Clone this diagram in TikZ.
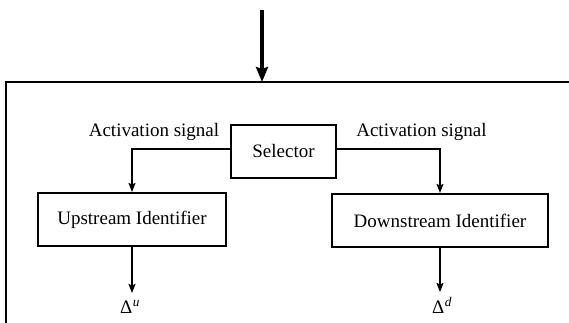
\documentclass[tikz,border=0pt]{standalone}
\usepackage{fontspec}
\setmainfont{Liberation Serif}
\usetikzlibrary{arrows.meta}
\begin{document}
\begin{tikzpicture}[x=1pt,y=-1pt,
  every node/.style={font=\fontsize{19}{22}\selectfont},
  block/.style={draw, line width=2pt, inner sep=0pt, minimum height=53pt},
  link/.style={line width=1.6pt, -{Stealth[length=9pt,width=7pt,inset=1.5pt]}},
  feed/.style={line width=4.5pt, -{Stealth[length=15pt,width=12pt,inset=2pt]}},
  frame/.style={line width=2pt},
  lbl/.style={anchor=base, inner sep=0pt}]
  \useasboundingbox (0,0) rectangle (569,323);

  % surrounding frame, open to the right and below
  \coordinate (fr) at (575,82);
  \coordinate (fl) at (6,82);
  \coordinate (fb) at (6,330);
  \draw[frame] (fr) -- (fl) -- (fb);

  % incoming signal
  \coordinate (inTop) at (262,10);
  \coordinate (inEnd) at (262,82);
  \draw[feed] (inTop) -- (inEnd);

  % blocks
  \node[block, minimum width=105pt] (sel) at (283.5,151.5) {Selector};
  \node[block, minimum width=188pt] (up) at (132,219.5) {Upstream Identifier};
  \node[block, minimum width=216pt] (down) at (440,220.5) {Downstream Identifier};

  % activation paths
  \draw[link] ([yshift=2.5pt]sel.west) -| (up.north);
  \draw[link] ([yshift=2.5pt]sel.east) -| (down.north);
  \node[lbl] (actL) at (154,137) {Activation signal};
  \node[lbl] (actR) at (421.5,137) {Activation signal};

  % outputs
  \coordinate (uEnd) at (132,293);
  \coordinate (dEnd) at (440,292);
  \draw[link] (up.south) -- (uEnd);
  \draw[link] (down.south) -- (dEnd);
  \node[lbl] (du) at (130,313) {Δ\textsuperscript{\kern0.5pt\textit{u}}};
  \node[lbl] (dd) at (442,313) {Δ\textsuperscript{\kern0.5pt\textit{d}}};
\end{tikzpicture}
\end{document}
